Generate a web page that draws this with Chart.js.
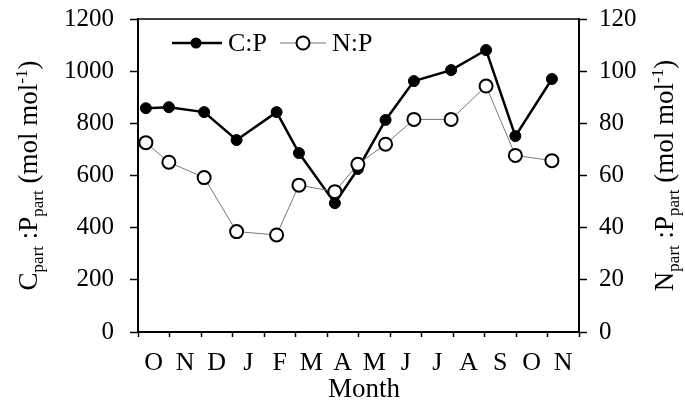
<!DOCTYPE html>
<html>
<head>
<meta charset="utf-8">
<script src="https://cdn.jsdelivr.net/npm/chart.js@4.4.1/dist/chart.umd.min.js"></script>
<style>
  html, body { margin: 0; padding: 0; background: #fff; }
  #wrap { width: 685px; height: 402px; }
</style>
</head>
<body>
<div id="wrap"><canvas id="chart" width="685" height="402"></canvas></div>
<script>
// month letters along the x axis (one per month slot)
const months = ["O", "N", "D", "J", "F", "M", "A", "M", "J", "J", "A", "S", "O", "N"];

// sampling positions, in months from the start of the first October
const samplePos = [0.25, 0.98, 2.1, 3.13, 4.4, 5.11, 6.25, 6.98, 7.86, 8.76, 9.94, 11.05, 11.98, 13.14];

// C:P (left axis) and N:P (right axis), mol mol-1
const cpValues = [858, 862, 843, 736, 843, 686, 494, 625, 813, 962, 1004, 1081, 751, 970];
const npValues = [72.6, 65.1, 59.2, 38.5, 37.2, 56.3, 53.8, 64.3, 72.0, 81.5, 81.5, 94.3, 67.7, 65.7];

const leftTicks = [0, 200, 400, 600, 800, 1000, 1200];
const rightTicks = [0, 20, 40, 60, 80, 100, 120];

const serif = '"Liberation Serif", "Times New Roman", serif';

function toPoints(xs, ys) {
    return xs.map((x, i) => ({ x: x, y: ys[i] }));
}

// draws a rotated title made of pieces (normal, subscript, superscript)
function drawRotatedTitle(ctx, parts, cx, cy) {
    ctx.save();
    ctx.translate(cx, cy);
    ctx.rotate(-Math.PI / 2);
    ctx.textBaseline = "alphabetic";
    ctx.textAlign = "left";
    let total = 0;
    parts.forEach(p => {
        ctx.font = p.size + "px " + serif;
        total += ctx.measureText(p.text).width;
    });
    let x = -total / 2;
    parts.forEach(p => {
        ctx.font = p.size + "px " + serif;
        ctx.fillStyle = "#000";
        ctx.fillText(p.text, x, p.dy);
        x += ctx.measureText(p.text).width;
    });
    ctx.restore();
}

const big = 27, small = 17;
function titleParts(letter) {
    return [
        { text: letter, size: big, dy: 0 },
        { text: "part", size: small, dy: 6 },
        { text: " :P", size: big, dy: 0 },
        { text: "part", size: small, dy: 6 },
        { text: " (mol mol", size: big, dy: 0 },
        { text: "-1", size: small, dy: -10 },
        { text: ")", size: big, dy: 0 }
    ];
}

const extras = {
    id: "extras",
    afterDraw(chart) {
        const ctx = chart.ctx;
        const a = chart.chartArea;

        // top frame line
        ctx.save();
        ctx.strokeStyle = "#000";
        ctx.lineWidth = 1.5;
        ctx.beginPath();
        ctx.moveTo(a.left, a.top);
        ctx.lineTo(a.right, a.top);
        ctx.stroke();
        ctx.restore();

        const midY = (a.top + a.bottom) / 2;
        drawRotatedTitle(ctx, titleParts("C"), 37, midY);
        drawRotatedTitle(ctx, titleParts("N"), 673, midY);

        // "Month"
        ctx.save();
        ctx.font = "27px " + serif;
        ctx.fillStyle = "#000";
        ctx.textAlign = "center";
        ctx.textBaseline = "alphabetic";
        ctx.fillText("Month", 364, 397);
        ctx.restore();

        // legend inside the plot
        const ly = 43;
        ctx.save();
        ctx.strokeStyle = "#000";
        ctx.lineWidth = 2.5;
        ctx.beginPath();
        ctx.moveTo(172, ly);
        ctx.lineTo(222, ly);
        ctx.stroke();
        ctx.beginPath();
        ctx.arc(196, ly, 5.5, 0, Math.PI * 2);
        ctx.fillStyle = "#000";
        ctx.fill();

        ctx.strokeStyle = "#777";
        ctx.lineWidth = 1;
        ctx.beginPath();
        ctx.moveTo(280, ly);
        ctx.lineTo(326, ly);
        ctx.stroke();
        ctx.beginPath();
        ctx.arc(303, ly, 6.5, 0, Math.PI * 2);
        ctx.fillStyle = "#fff";
        ctx.fill();
        ctx.strokeStyle = "#000";
        ctx.lineWidth = 2;
        ctx.stroke();

        ctx.font = "26px " + serif;
        ctx.fillStyle = "#000";
        ctx.textBaseline = "middle";
        ctx.textAlign = "left";
        ctx.fillText("C:P", 228, ly + 1);
        ctx.fillText("N:P", 332, ly + 1);
        ctx.restore();
    }
};

function fixVertical(width) {
    return s => {
        s.width = width;
        s.paddingTop = 0;
        s.paddingBottom = 0;
    };
}

const ctx = document.getElementById("chart").getContext("2d");

new Chart(ctx, {
    type: "line",
    data: {
        datasets: [
            {
                label: "C:P",
                data: toPoints(samplePos, cpValues),
                yAxisID: "y",
                borderColor: "#000",
                borderWidth: 2.5,
                pointRadius: 5.5,
                pointBackgroundColor: "#000",
                pointBorderColor: "#000",
                pointBorderWidth: 1,
                tension: 0,
                order: 1
            },
            {
                label: "N:P",
                data: toPoints(samplePos, npValues),
                yAxisID: "y2",
                borderColor: "#777",
                borderWidth: 1,
                pointRadius: 6.5,
                pointBackgroundColor: "#fff",
                pointBorderColor: "#000",
                pointBorderWidth: 2,
                tension: 0,
                order: 0
            }
        ]
    },
    options: {
        responsive: false,
        animation: false,
        layout: { padding: { top: 19, left: 0, right: 0, bottom: 0 } },
        plugins: {
            legend: { display: false },
            tooltip: { enabled: false }
        },
        scales: {
            x: {
                type: "linear",
                min: 0,
                max: 14,
                afterFit: s => { s.height = 70; s.paddingLeft = 0; s.paddingRight = 0; },
                afterBuildTicks: s => {
                    s.ticks = [];
                    for (let i = 0; i <= 28; i++) s.ticks.push({ value: i / 2 });
                },
                ticks: {
                    autoSkip: false,
                    maxRotation: 0,
                    padding: 11,
                    color: "#000",
                    font: { family: serif, size: 26 },
                    callback: v => Number.isInteger(v) ? "" : months[Math.floor(v)]
                },
                grid: {
                    drawOnChartArea: false,
                    tickLength: 5,
                    tickWidth: 1.5,
                    tickColor: c => (c.tick && Number.isInteger(c.tick.value)) ? "#000" : "rgba(0,0,0,0)"
                },
                border: { color: "#000", width: 2 }
            },
            y: {
                position: "left",
                min: 0,
                max: 1200,
                afterFit: fixVertical(138),
                afterBuildTicks: s => { s.ticks = leftTicks.map(v => ({ value: v })); },
                ticks: {
                    padding: 16,
                    color: "#000",
                    font: { family: serif, size: 25 },
                    callback: v => String(v)
                },
                grid: {
                    drawOnChartArea: false,
                    tickLength: 8,
                    tickWidth: 1.5,
                    tickColor: "#000"
                },
                border: { color: "#000", width: 2 }
            },
            y2: {
                position: "right",
                min: 0,
                max: 120,
                afterFit: fixVertical(106),
                afterBuildTicks: s => { s.ticks = rightTicks.map(v => ({ value: v })); },
                ticks: {
                    padding: 12,
                    color: "#000",
                    font: { family: serif, size: 25 },
                    callback: v => String(v)
                },
                grid: {
                    drawOnChartArea: false,
                    tickLength: 8,
                    tickWidth: 1.5,
                    tickColor: "#000"
                },
                border: { color: "#000", width: 2 }
            }
        }
    },
    plugins: [extras]
});
</script>
</body>
</html>
